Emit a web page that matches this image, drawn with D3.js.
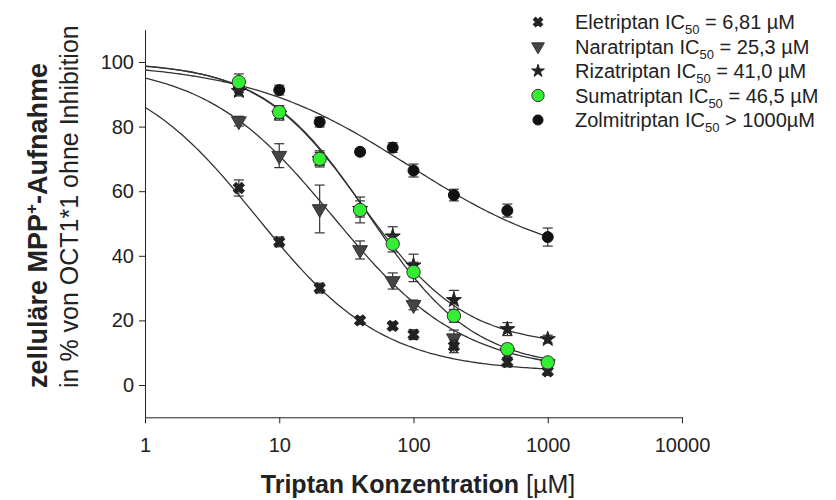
<!DOCTYPE html>
<html>
<head>
<meta charset="utf-8">
<title>Triptan OCT1 Inhibition</title>
<style>
  body { margin: 0; background: #fff; }
  svg text { font-family: "Liberation Sans", Arial, sans-serif; fill: #222; }
  .axis path, .axis line { stroke: #222; }
</style>
</head>
<body>
<div id="viz"></div>
<script src="https://cdn.jsdelivr.net/npm/d3@7"></script>
<script>
  // concentrations in µM
  var conc = [5, 10, 20, 40, 70, 100, 200, 500, 1000];

  // uptake in % of OCT1*1 without inhibition (mean, error)
  var eletriptan   = [61.0, 44.3, 30.0, 20.0, 18.3, 15.6, 12.0, 7.1, 4.2];
  var eletriptanErr = [2.5, 1.5, 1.5, 1.2, 1.2, 1.5, 2.0, 1.5, 1.2];
  var naratriptan  = [81.7, 71.0, 54.5, 41.8, 32.2, 24.8, 14.5, 10.0, 6.5];
  var naratriptanErr = [1.5, 3.7, 7.4, 2.8, 2.5, 1.5, 2.5, 1.5, 1.2];
  var rizatriptan  = [91.0, 84.0, 70.0, 54.5, 46.0, 37.0, 26.3, 17.3, 14.2];
  var rizatriptanErr = [1.5, 2.0, 2.0, 2.5, 3.0, 3.5, 3.0, 2.0, 1.2];
  var sumatriptan  = [93.8, 84.5, 70.0, 54.2, 43.7, 35.0, 21.4, 11.1, 7.0];
  var sumatriptanErr = [2.5, 2.0, 2.5, 4.0, 2.5, 3.0, 2.0, 1.5, 1.2];
  var zolmitriptan = [92.0, 91.3, 81.4, 72.2, 73.5, 66.4, 58.8, 54.0, 45.8];
  var zolmitriptanErr = [1.5, 1.5, 1.5, 1.0, 1.5, 2.0, 1.8, 2.0, 2.8];

  // fitted curve parameters: top, bottom, IC50, hill slope
  var fitTop    = [100, 100, 100, 100, 100];
  var fitBottom = [4, 4, 12, 5, 36];
  var fitIC50   = [6.81, 25.3, 41.0, 46.5, 92];
  var fitHill   = [0.92, 0.9, 1.13, 1.11, 0.71];

  var names = ["Eletriptan", "Naratriptan", "Rizatriptan", "Sumatriptan", "Zolmitriptan"];
  var icLabels = [" = 6,81 µM", " = 25,3 µM", " = 41,0 µM", " = 46,5 µM", " > 1000µM"];

  var xTicks = [1, 10, 100, 1000, 10000];
  var yTicks = [0, 20, 40, 60, 80, 100];

  var series = [
    { name: names[0], values: eletriptan,   err: eletriptanErr },
    { name: names[1], values: naratriptan,  err: naratriptanErr },
    { name: names[2], values: rizatriptan,  err: rizatriptanErr },
    { name: names[3], values: sumatriptan,  err: sumatriptanErr },
    { name: names[4], values: zolmitriptan, err: zolmitriptanErr }
  ];

  var W = 836, H = 500;

  var x = d3.scaleLog().domain([1, 10000]).range([145, 682]);
  var y = d3.scaleLinear().domain([-10, 110]).range([417.3, 29.7]);

  var svg = d3.select("#viz").append("svg")
      .attr("width", W)
      .attr("height", H);

  // axes
  svg.append("g")
      .attr("class", "axis")
      .attr("transform", "translate(0," + y(-10) + ")")
      .call(d3.axisBottom(x).tickValues(xTicks).tickFormat(d3.format("d")).tickSizeInner(6).tickSizeOuter(0))
    .selectAll("text")
      .attr("dy", "1.3em")
      .style("font-size", "20px");

  svg.append("g")
      .attr("class", "axis")
      .attr("transform", "translate(" + x(1) + ",0)")
      .call(d3.axisLeft(y).tickValues(yTicks).tickSizeInner(6).tickSizeOuter(0))
    .selectAll("text")
      .attr("x", -11)
      .style("font-size", "20px");

  // marker shapes
  var symFns = [
    d3.symbol().type(d3.symbolCross).size(75),
    d3.symbol().type(d3.symbolTriangle).size(95),
    d3.symbol().type(d3.symbolStar).size(70),
    d3.symbol().type(d3.symbolCircle).size(140),
    d3.symbol().type(d3.symbolCircle).size(95)
  ];
  var legendSyms = [
    d3.symbol().type(d3.symbolCross).size(55),
    d3.symbol().type(d3.symbolTriangle).size(70),
    d3.symbol().type(d3.symbolStar).size(50),
    d3.symbol().type(d3.symbolCircle).size(120),
    d3.symbol().type(d3.symbolCircle).size(80)
  ];
  var rot = [45, 180, 0, 0, 0];
  var fills = ["#222", "#444", "#222", "#33ee33", "#111"];
  var strokes = ["#222", "#333", "#222", "#333", "#111"];

  var line = d3.line()
      .x(function(d) { return x(d[0]); })
      .y(function(d) { return y(d[1]); });

  // fitted curves
  var xs = d3.range(0, 3.001, 0.02).map(function(e) { return Math.pow(10, e); });
  series.forEach(function(s, i) {
    var pts = xs.map(function(c) {
      return [c, fitBottom[i] + (fitTop[i] - fitBottom[i]) / (1 + Math.pow(c / fitIC50[i], fitHill[i]))];
    });
    svg.append("path")
        .datum(pts)
        .attr("d", line)
        .attr("fill", "none")
        .attr("stroke", "#333")
        .attr("stroke-width", 1.3);
  });

  // error bars + points, green drawn last so it stays on top of the stars
  [4, 2, 1, 0, 3].forEach(function(i) {
    var s = series[i];
    var g = svg.append("g");
    var d = conc.map(function(c, j) { return { c: c, v: s.values[j], e: s.err[j] }; });

    var eb = g.selectAll(".eb").data(d).enter().append("g")
        .attr("stroke", "#333").attr("stroke-width", 1.2);
    eb.append("line")
        .attr("x1", function(p) { return x(p.c); })
        .attr("x2", function(p) { return x(p.c); })
        .attr("y1", function(p) { return y(p.v + p.e); })
        .attr("y2", function(p) { return y(p.v - p.e); });
    eb.append("line")
        .attr("x1", function(p) { return x(p.c) - 5; })
        .attr("x2", function(p) { return x(p.c) + 5; })
        .attr("y1", function(p) { return y(p.v + p.e); })
        .attr("y2", function(p) { return y(p.v + p.e); });
    eb.append("line")
        .attr("x1", function(p) { return x(p.c) - 5; })
        .attr("x2", function(p) { return x(p.c) + 5; })
        .attr("y1", function(p) { return y(p.v - p.e); })
        .attr("y2", function(p) { return y(p.v - p.e); });

    g.selectAll(".pt").data(d).enter().append("path")
        .attr("d", symFns[i])
        .attr("transform", function(p) { return "translate(" + x(p.c) + "," + y(p.v) + ") rotate(" + rot[i] + ")"; })
        .attr("fill", fills[i])
        .attr("stroke", strokes[i])
        .attr("stroke-width", 1);
  });

  // legend
  var legend = svg.selectAll(".legend")
      .data(series)
    .enter().append("g")
      .attr("class", "legend")
      .attr("transform", function(d, i) { return "translate(0," + (22 + i * 24.5) + ")"; });

  legend.append("path")
      .attr("d", function(d, i) { return legendSyms[i](); })
      .attr("transform", function(d, i) { return "translate(538,0) rotate(" + rot[i] + ")"; })
      .attr("fill", function(d, i) { return fills[i]; })
      .attr("stroke", function(d, i) { return strokes[i]; });

  var lt = legend.append("text")
      .attr("x", 575)
      .attr("y", 7)
      .style("font-size", "20px");
  lt.append("tspan").text(function(d) { return d.name + " IC"; });
  lt.append("tspan").attr("dy", 5).style("font-size", "13px").text("50");
  lt.append("tspan").attr("dy", -5).text(function(d, i) { return icLabels[i]; });

  // axis titles
  var xt = svg.append("text")
      .attr("x", 418)
      .attr("y", 493)
      .attr("text-anchor", "middle")
      .style("font-size", "25px");
  xt.append("tspan").style("font-weight", "bold").text("Triptan Konzentration");
  xt.append("tspan").text(" [µM]");

  var yt = svg.append("text")
      .attr("transform", "translate(47,388) rotate(-90)")
      .style("font-size", "27px")
      .style("font-weight", "bold");
  yt.append("tspan").text("zelluläre MPP");
  yt.append("tspan").attr("dy", -10).style("font-size", "17px").text("+");
  yt.append("tspan").attr("dy", 10).text("-Aufnahme");

  svg.append("text")
      .attr("transform", "translate(78,388) rotate(-90)")
      .style("font-size", "25px")
      .text("in % von OCT1*1 ohne Inhibition");
</script>
</body>
</html>
